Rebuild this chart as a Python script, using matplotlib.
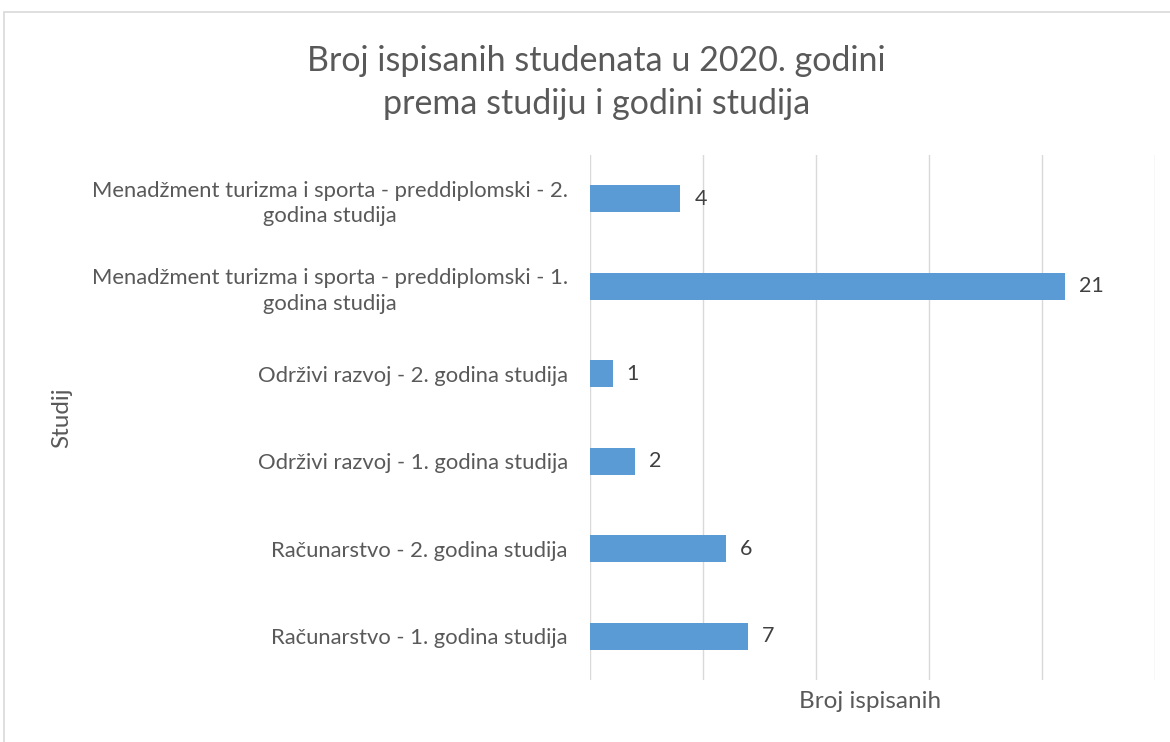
import matplotlib.pyplot as plt
from matplotlib.patches import Rectangle

# data (bottom to top)
categories = [
    'Računarstvo - 1. godina studija',
    'Računarstvo - 2. godina studija',
    'Održivi razvoj - 1. godina studija',
    'Održivi razvoj - 2. godina studija',
    'Menadžment turizma i sporta - preddiplomski - 1.\ngodina studija',
    'Menadžment turizma i sporta - preddiplomski - 2.\ngodina studija',
]
values = [7, 6, 2, 1, 21, 4]

title = 'Broj ispisanih studenata u 2020. godini\nprema studiju i godini studija'
xlabel = 'Broj ispisanih'
ylabel = 'Studij'


def main():
    plt.rcParams['font.family'] = ['Lato', 'DejaVu Sans']
    fig = plt.figure(figsize=(11.7, 7.42), dpi=100)
    ax = fig.add_axes([0.5043, 0.0836, 0.4829, 0.7075])

    pos = list(range(len(categories)))
    bars = ax.barh(pos, values, height=0.31, color='#5B9BD5', zorder=3)
    for b, v in zip(bars, values):
        ax.annotate(str(v), (b.get_width(), b.get_y() + b.get_height() / 2),
                    xytext=(10, 0), textcoords='offset points',
                    ha='left', va='center', fontsize=15.5, color='#404040')

    ax.set_xlim(0, 25)
    ax.set_ylim(-0.5, len(categories) - 0.5)
    ax.set_xticks([0, 5, 10, 15, 20, 25])
    ax.set_xticklabels([])
    ax.grid(axis='x', color='#d9d9d9', linewidth=1, zorder=0)
    ax.tick_params(length=0)
    ax.tick_params(axis='y', pad=16)
    ax.set_yticks(pos)
    ax.set_yticklabels(categories, fontsize=15.8, color='#595959')
    for lab in ax.get_yticklabels():
        lab.set_multialignment('center')
        lab.set_linespacing(1.35)
    for s in ax.spines.values():
        s.set_visible(False)

    fig.text(0.510, 0.889, title, ha='center', va='center', fontsize=24.5,
             color='#595959', linespacing=1.45)
    fig.text(0.744, 0.054, xlabel, ha='center', va='center', fontsize=17.5,
             color='#595959')
    fig.text(0.053, 0.437, ylabel, ha='center', va='center', fontsize=17.5,
             color='#595959', rotation=90)

    fig.patches.append(Rectangle((4 / 1170, -0.1), 1.2, 1.1 - 12 / 742,
                                 transform=fig.transFigure, fill=False,
                                 edgecolor='#d9d9d9', linewidth=1.2))

    fig.savefig('out.png', dpi=100)


if __name__ == '__main__':
    main()
